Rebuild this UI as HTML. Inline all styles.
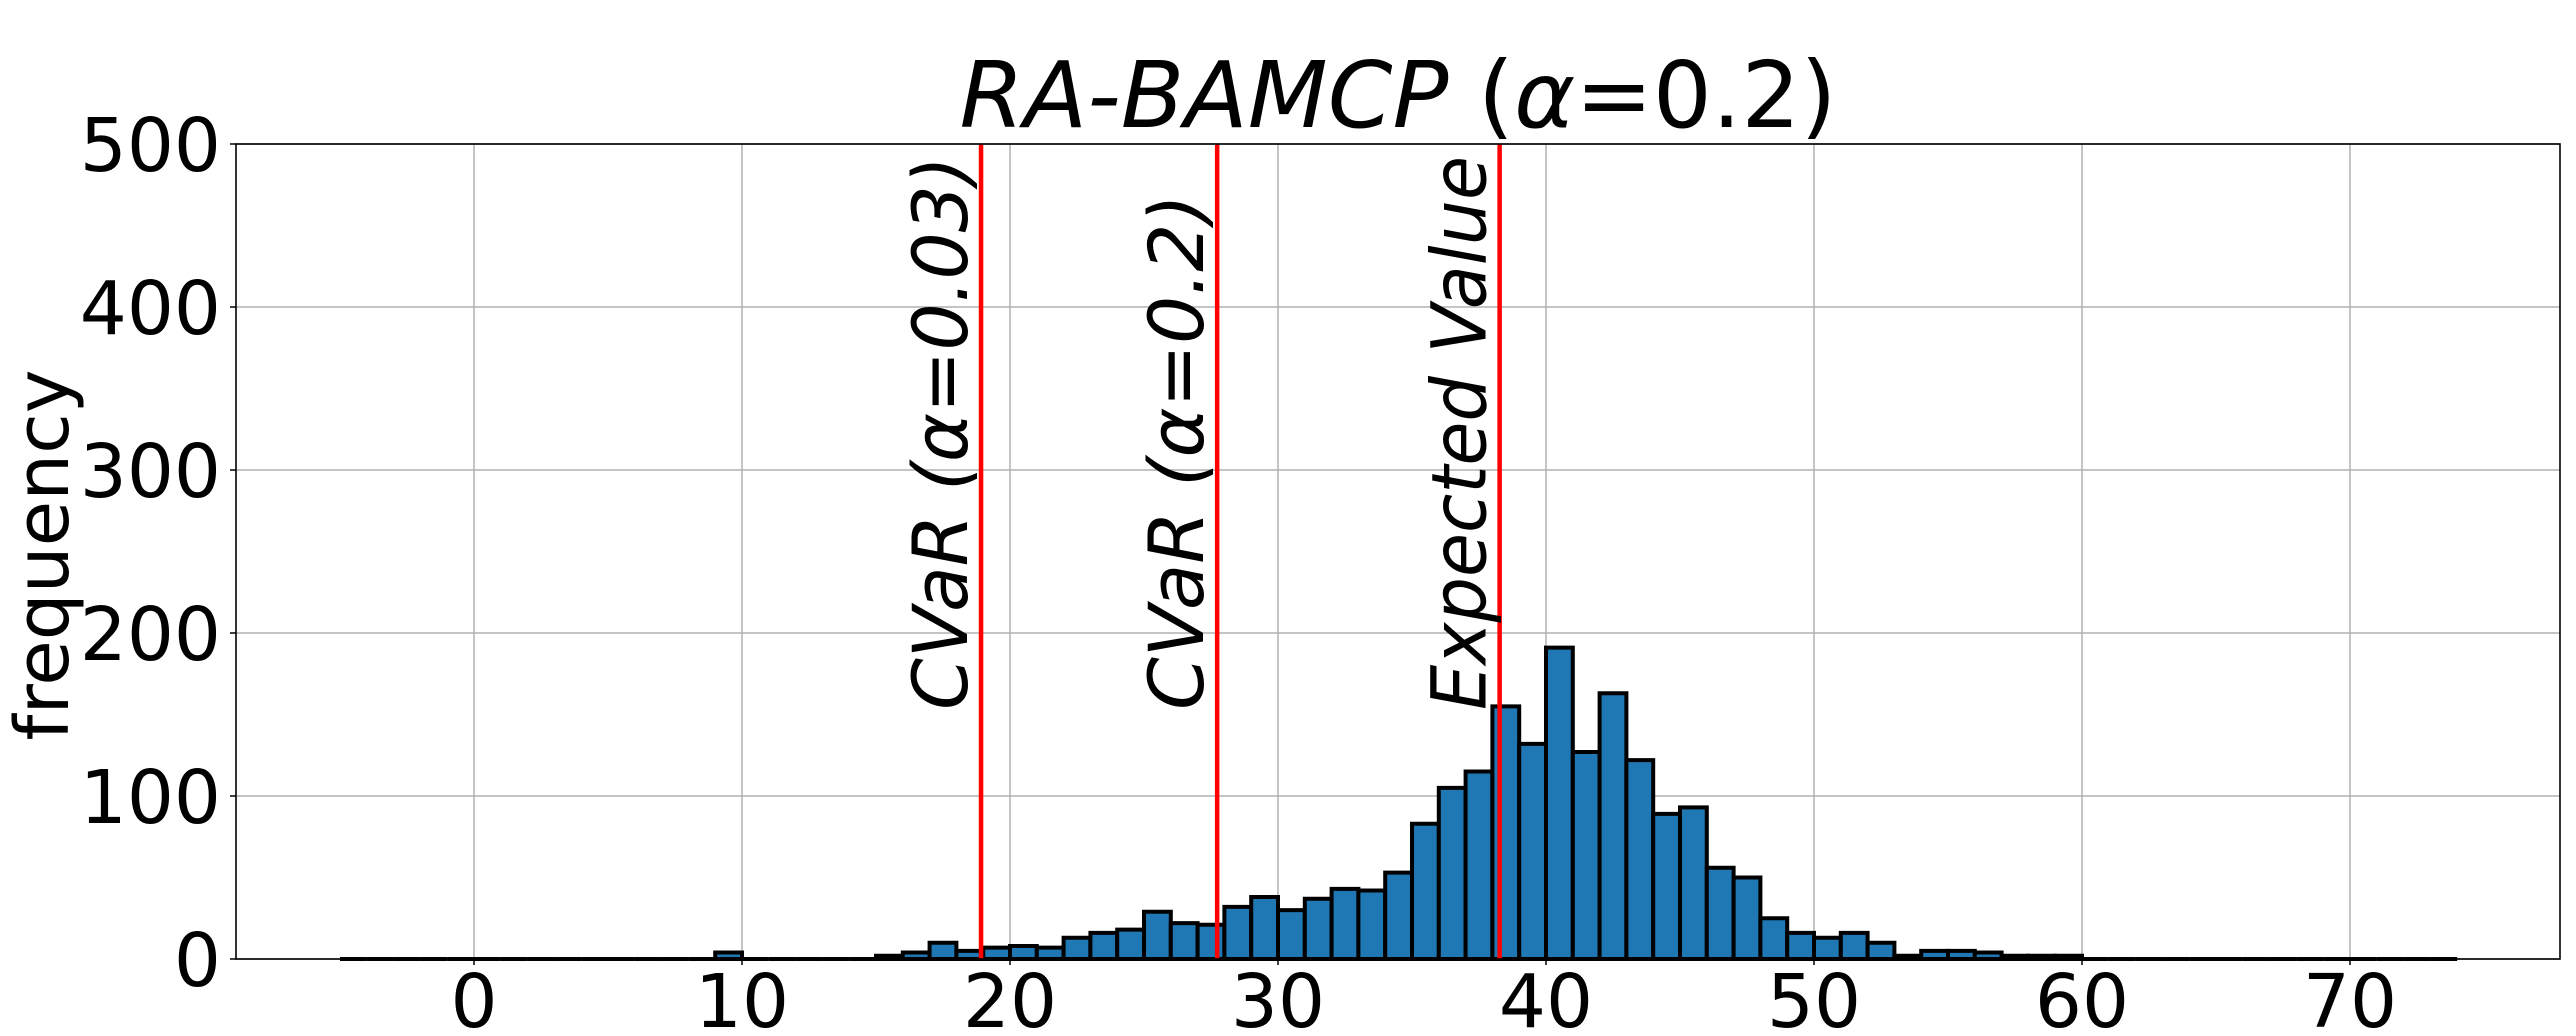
<!DOCTYPE html>
<html><head><meta charset="utf-8"><style>
html,body{margin:0;padding:0;background:#fff;}
svg{display:block;font-family:"DejaVu Sans","Liberation Sans",sans-serif;}
</style></head><body>
<svg id="chart" width="2576" height="1036" viewBox="0 0 2576 1036">
<g id="grid"></g>
<g id="bars"></g>
<g id="vlines"></g>
<rect x="236" y="144" width="2324" height="815" fill="none" stroke="#000" stroke-width="1.6"/>
<g id="xticks"></g>
<g id="yticks"></g>
<text x="1398" y="127" font-size="92" text-anchor="middle" textLength="877" lengthAdjust="spacingAndGlyphs"><tspan font-style="italic">RA-BAMCP</tspan> (<tspan font-style="italic">α</tspan>=0.2)</text>
<text transform="translate(68,555) rotate(-90)" font-size="74" text-anchor="middle">frequency</text>
</svg>
<script>
const binStart = -5;
const binWidth = 1;
const counts = [0,0,0,0,0,0,0,0,0,0,0,0,0,0,4,0,0,0,0,0,
  2,4,10,5,7,8,7,13,16,18,29,22,21,32,38,30,37,43,42,53,83,105,115,155,132,191,127,163,122,89,93,56,50,25,16,13,16,10,2,5,5,4,2,2,2,
  0,0,0,0,0,0,0,0,0,0,0,0,0,0];
const xTicks = [0,10,20,30,40,50,60,70];
const yTicks = [0,100,200,300,400,500];
const refValues = [18.92, 27.73, 38.27];
const refLabels = ["CVaR (α=0.03)", "CVaR (α=0.2)", "Expected Value"];
const refLabelLens = [554, 516, 554];

const NS = "http://www.w3.org/2000/svg";
const X0 = 474, XS = 26.8;
const Y0 = 959, YS = 815/500;
const xs = v => X0 + v*XS;
const ys = v => Y0 - v*YS;
function mk(tag, attrs, parent){const e=document.createElementNS(NS,tag);for(const k in attrs)e.setAttribute(k,attrs[k]);parent.appendChild(e);return e;}
const grid=document.getElementById('grid'), bars=document.getElementById('bars'), vl=document.getElementById('vlines'), xt=document.getElementById('xticks'), yt=document.getElementById('yticks');

xTicks.forEach(t=>{
  const g=mk('line',{x1:xs(t),x2:xs(t),y1:144,y2:959,stroke:'#b0b0b0','stroke-width':1.5},grid);
  
  
  const tk=mk('line',{x1:xs(t),x2:xs(t),y1:959,y2:965,stroke:'#000','stroke-width':1.5},xt);
  
  
  const tx=mk('text',{x:xs(t),y:1027,'font-size':74,'text-anchor':'middle'},xt);
  tx.textContent=t;
  
  
});
yTicks.forEach(t=>{
  const g=mk('line',{x1:236,x2:2560,y1:ys(t),y2:ys(t),stroke:'#b0b0b0','stroke-width':1.5},grid);
  
  
  const tk=mk('line',{x1:230,x2:236,y1:ys(t),y2:ys(t),stroke:'#000','stroke-width':1.5},yt);
  
  
  const tx=mk('text',{x:221,y:ys(t)+27,'font-size':74,'text-anchor':'end'},yt);
  tx.textContent=t;
  
  
});
counts.forEach((c,i)=>{
  const l=xs(binStart+i*binWidth), r=xs(binStart+(i+1)*binWidth), top=ys(c);
  const p=mk('path',{d:`M${l},${Y0} V${top} H${r} V${Y0} Z`,fill:'#1f77b4',stroke:'#000','stroke-width':4,'stroke-linejoin':'miter'},bars);
  
  
});
refValues.forEach((v,i)=>{
  const ln=mk('line',{x1:xs(v),x2:xs(v),y1:144,y2:959,stroke:'#ff0000','stroke-width':4.5},vl);
  
  
  const tx=mk('text',{transform:`translate(${xs(v)-14},710) rotate(-90)`,'font-size':76,'font-style':'italic',textLength:refLabelLens[i],lengthAdjust:'spacingAndGlyphs'},vl);
  tx.textContent=refLabels[i];
  
  
});
</script>
</body></html>
